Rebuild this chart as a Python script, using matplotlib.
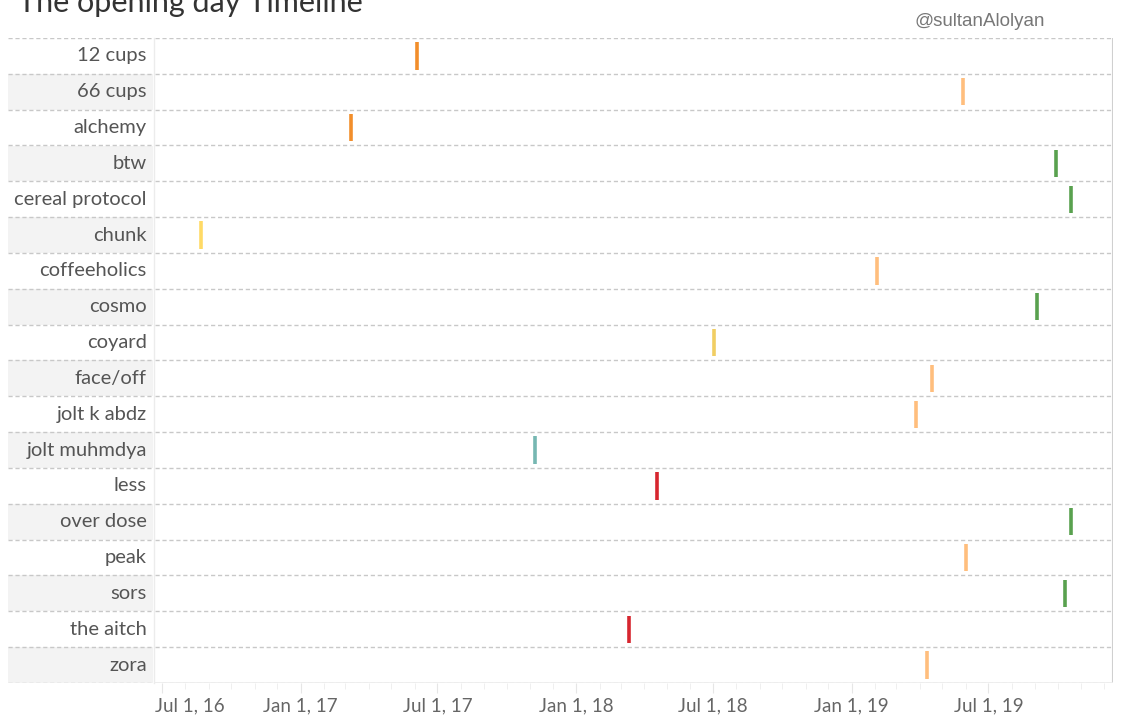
import numpy as np
import matplotlib
matplotlib.use("Agg")
import matplotlib.pyplot as plt
import matplotlib.dates as mdates
import matplotlib.transforms as mtransforms

shops = ["12 cups", "66 cups", "alchemy", "btw", "cereal protocol", "chunk",
         "coffeeholics", "cosmo", "coyard", "face/off", "jolt k abdz",
         "jolt muhmdya", "less", "over dose", "peak", "sors", "the aitch", "zora"]
opening = ["2017-06-04", "2019-05-28", "2017-03-09", "2019-09-28", "2019-10-18",
           "2016-08-22", "2019-02-03", "2019-09-03", "2018-07-02", "2019-04-17",
           "2019-03-27", "2017-11-07", "2018-04-18", "2019-10-18", "2019-06-01",
           "2019-10-11", "2018-03-12", "2019-04-11"]
colors = ["#F28E2B", "#FFBE7D", "#F28E2B", "#59A14F", "#59A14F", "#FFDA66",
          "#FFBE7D", "#59A14F", "#F1CE63", "#FFBE7D", "#FFBE7D", "#76B7B2",
          "#D7262F", "#59A14F", "#FFBE7D", "#59A14F", "#D7262F", "#FFBE7D"]

W, H = 1123, 718
fig = plt.figure(figsize=(W / 100, H / 100), dpi=100)
font = "Lato"

top, bot = 38, 683
ax = fig.add_axes([155 / W, 1 - bot / H, (1113 - 155) / W, (bot - top) / H])
lab = fig.add_axes([8 / W, 1 - bot / H, (153 - 8) / W, (bot - top) / H])

n = len(shops)
y = np.arange(n)
dates = mdates.date2num(np.array(opening, dtype="datetime64[D]"))

for a in (ax, lab):
    a.set_ylim(n - 0.5, -0.5)
    for s in a.spines.values():
        s.set_visible(False)
    for b in np.arange(-0.5, n, 1.0):
        a.axhline(b, color="#c8c8c8", lw=1, ls=(0, (3, 2)), zorder=1)
    a.set_yticks([])

# label panel
lab.set_xlim(0, 1)
lab.set_xticks([])
for i in y:
    if i % 2 == 1:
        lab.axhspan(i - 0.5, i + 0.5, color="#f3f3f3", zorder=0, lw=0)
    lab.text(0.957, i, shops[i], ha="right", va="center", fontsize=14.5,
             color="#555555", family=font)
fig.add_artist(plt.Line2D([154 / W, 154 / W], [1 - bot / H, 1 - top / H],
                          color="#ececec", lw=1))

# marks
ax.vlines(dates, y - 0.38, y + 0.38, colors=colors, lw=2.6, zorder=3)

xmin = mdates.date2num(np.datetime64("2016-06-22"))
xmax = mdates.date2num(np.datetime64("2019-12-13"))
ax.set_xlim(xmin, xmax)
ax.axvline(xmax, color="#d0d0d0", lw=1.5)
ax.axhline(n - 0.5, color="#ececec", lw=1.2, zorder=2)

ax.xaxis.set_major_locator(mdates.MonthLocator(bymonth=(1, 7)))
ax.xaxis.set_minor_locator(mdates.MonthLocator())
ax.xaxis.set_major_formatter(
    plt.FuncFormatter(lambda v, p: mdates.num2date(v).strftime("%b ") +
                      str(mdates.num2date(v).day) +
                      mdates.num2date(v).strftime(", %y")))
ax.tick_params(axis="x", which="major", length=7, color="#e6e6e6",
               labelsize=13.5, labelcolor="#666666", pad=3)
ax.tick_params(axis="x", which="minor", length=4, color="#ececec")
for t in ax.get_xticklabels():
    t.set_family(font)
fig.canvas.draw()
first = ax.get_xticklabels()[0]
first.set_ha("left")
first.set_transform(first.get_transform() +
                    mtransforms.ScaledTranslation(-7 / 100, 0, fig.dpi_scale_trans))

fig.text(18 / W, 1 - 3 / H, "The opening day Timeline", fontsize=22,
         color="#333333", family=font, va="center", ha="left")
fig.text(980 / W, 1 - 22 / H, "@sultanAlolyan", fontsize=13.5,
         color="#777777", family="Liberation Sans", va="center", ha="center")

fig.savefig("out.png", dpi=100)
